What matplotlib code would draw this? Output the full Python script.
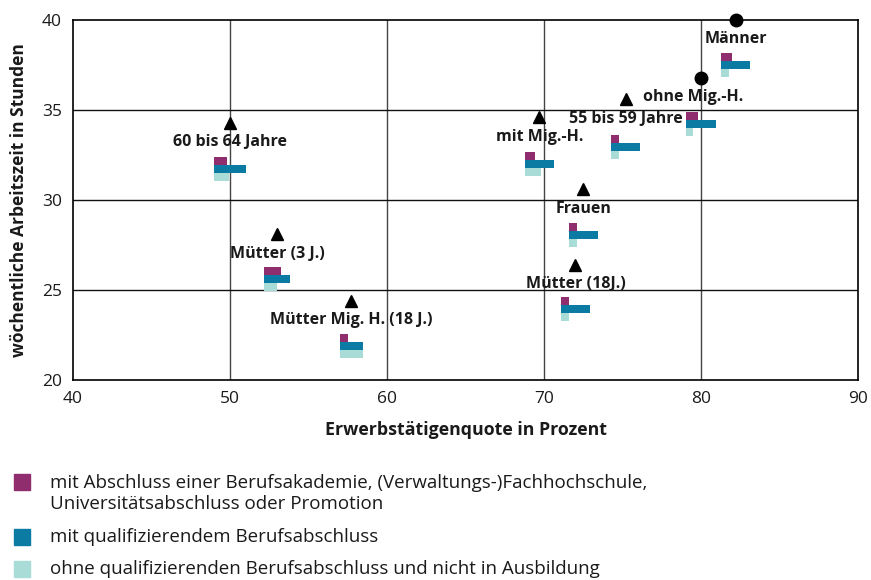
import matplotlib
matplotlib.use('Agg')
import matplotlib.pyplot as plt
from matplotlib.patches import Rectangle

plt.rcParams['font.family'] = ['Open Sans', 'DejaVu Sans']

# groups with their marker (employment rate, weekly hours)
groups = ['Männer', 'ohne Mig.-H.', '55 bis 59 Jahre', 'mit Mig.-H.', '60 bis 64 Jahre',
          'Frauen', 'Mütter (3 J.)', 'Mütter (18J.)', 'Mütter Mig. H. (18 J.)']
quote = [82.2, 80.0, 75.2, 69.7, 50.0, 72.5, 53.0, 72.0, 57.7]
stunden = [40.0, 36.8, 35.6, 34.6, 34.3, 30.6, 28.1, 26.4, 24.4]
marker = ['o', 'o', '^', '^', '^', '^', '^', '^', '^']

# small bar glyphs per group: anchor (left, top) and bar lengths per qualification
bar_x = [81.27, 79.04, 74.27, 68.79, 48.98, 71.59, 52.17, 71.08, 57.01]
bar_top = [38.15, 34.89, 33.59, 32.65, 32.37, 28.71, 26.26, 24.59, 22.56]
hoch = [0.70, 0.76, 0.51, 0.64, 0.83, 0.51, 1.08, 0.51, 0.51]
beruf = [1.85, 1.91, 1.85, 1.85, 2.04, 1.85, 1.66, 1.85, 1.46]
ohne = [0.51, 0.45, 0.51, 1.02, 0.96, 0.51, 0.83, 0.51, 1.46]

legend_labels = ['mit Abschluss einer Berufsakademie, (Verwaltungs-)Fachhochschule,\nUniversitätsabschluss oder Promotion',
                 'mit qualifizierendem Berufsabschluss',
                 'ohne qualifizierenden Berufsabschluss und nicht in Ausbildung']
colors = ['#902d6f', '#0b7ba4', '#a9dbd7']

fig = plt.figure(figsize=(8.71, 5.80), dpi=100)
ax = fig.add_axes([73/871, 1-380/580, 785/871, 360/580])

ax.set_xlim(40, 90)
ax.set_ylim(20, 40)
ax.set_xticks([40, 50, 60, 70, 80, 90])
ax.set_yticks([20, 25, 30, 35, 40])
for v in [50, 60, 70, 80]:
    ax.axvline(v, color='#444444', lw=1.0, zorder=0)
for v in [25, 30, 35]:
    ax.axhline(v, color='#111111', lw=1.0, zorder=0)
for s in ax.spines.values():
    s.set_color('black')
    s.set_linewidth(1.2)
ax.tick_params(length=0, labelsize=12.5, pad=8, labelcolor='#1a1a1a')

h = 0.44
for i in range(len(groups)):
    for j, vals in enumerate([hoch, beruf, ohne]):
        ax.barh(bar_top[i] - h*(j+0.5), vals[i], height=h, left=bar_x[i],
                color=colors[j], zorder=3)
    ax.plot(quote[i], stunden[i], marker=marker[i], color='black', markersize=9,
            clip_on=False, zorder=4)
    dx = -6 if groups[i] == 'ohne Mig.-H.' else 0
    ax.annotate(groups[i], (quote[i], stunden[i]), xytext=(dx, -14),
                textcoords='offset points', ha='center', va='center',
                fontsize=11.5, fontweight='bold', color='#1a1a1a', zorder=5)

ax.set_xlabel('Erwerbstätigenquote in Prozent', fontsize=12.8, fontweight='bold',
              labelpad=10, color='#1a1a1a')
ax.set_ylabel('wöchentliche Arbeitszeit in Stunden', fontsize=12.5, fontweight='bold',
              labelpad=10, color='#1a1a1a')

# legend drawn by hand
rows = [482, 537, 569]
text_y = [493.5, 537, 569]
for j, lab in enumerate(legend_labels):
    fig.add_artist(Rectangle((14/871, 1-(rows[j]+8)/580), 16/871, 16/580,
                             transform=fig.transFigure, color=colors[j]))
    fig.text(50/871, 1-text_y[j]/580, lab, fontsize=13.5, va='center',
             linespacing=1.2, color='#1a1a1a')

fig.savefig('out.png', dpi=100)
